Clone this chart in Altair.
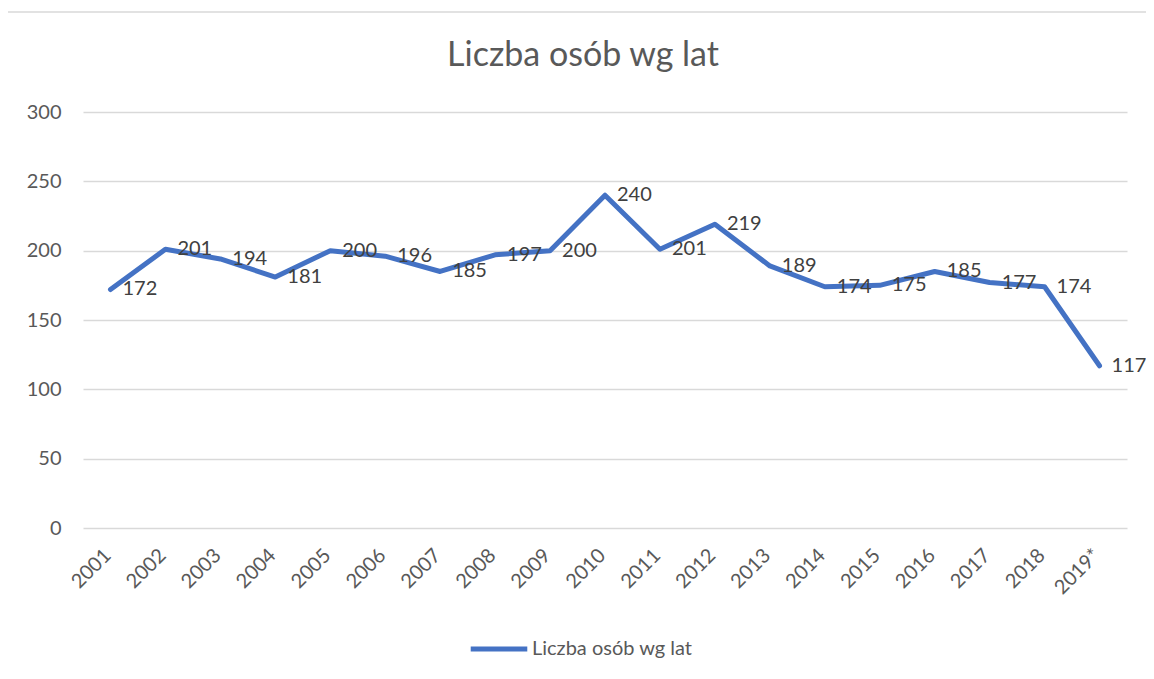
import altair as alt
import pandas as pd

years = ["2001", "2002", "2003", "2004", "2005", "2006", "2007", "2008", "2009", "2010",
         "2011", "2012", "2013", "2014", "2015", "2016", "2017", "2018", "2019*"]
values = [172, 201, 194, 181, 200, 196, 185, 197, 200, 240,
          201, 219, 189, 174, 175, 185, 177, 174, 117]
series_name = "Liczba osób wg lat"

df = pd.DataFrame({"rok": years, "liczba": values, "seria": [series_name] * len(years)})

FONT = "Lato"
x_enc = alt.X("rok:O", sort=None, scale=alt.Scale(padding=0.5),
              axis=alt.Axis(title=None, labelAngle=-45, labelAlign="right", labelBaseline="middle",
                            labelPadding=24, labelOffset=-3, labelFontSize=20, labelColor="#595959",
                            labelFont=FONT, domain=False, ticks=False, grid=False))
y_enc = alt.Y("liczba:Q", scale=alt.Scale(domain=[0, 300]),
              axis=alt.Axis(title=None, values=[0, 50, 100, 150, 200, 250, 300], labelFontSize=20,
                            labelColor="#595959", labelFont=FONT, labelPadding=22,
                            domain=False, ticks=False, gridColor="#d9d9d9", gridWidth=1.3))

frame = alt.Chart(pd.DataFrame({"a": [0]})).mark_rect(
    fill=None, stroke="#d9d9d9", strokeWidth=1.5
).encode(x=alt.value(-76), x2=alt.value(1200), y=alt.value(-100), y2=alt.value(600))

line = alt.Chart(df).mark_line(strokeWidth=5, strokeJoin="round", strokeCap="round").encode(
    x=x_enc, y=y_enc,
    color=alt.Color("seria:N", scale=alt.Scale(range=["#4472C4"]),
                    legend=alt.Legend(title=None, orient="none", legendX=385, legendY=506,
                                      symbolType="stroke", symbolSize=3200, symbolStrokeWidth=5,
                                      labelFontSize=20, labelColor="#595959", labelFont=FONT,
                                      labelOffset=2, labelLimit=0))
)

labels = alt.Chart(df).mark_text(align="left", baseline="middle", dx=12, fontSize=20,
                                 color="#404040", font=FONT).encode(
    x=alt.X("rok:O", sort=None), y="liczba:Q", text="liczba:Q")

chart = alt.layer(frame, line, labels).properties(
    width=1044, height=416,
    autosize=alt.AutoSizeParams(type="none"),
    padding={"left": 75, "top": 104, "right": 19, "bottom": 136},
    title=alt.TitleParams(series_name, fontSize=34, font=FONT, fontWeight="normal",
                          color="#595959", anchor="middle", frame="group", offset=-62, dx=-22),
).configure_view(stroke=None)

chart.save("out.html", embed_options={"renderer": "svg", "actions": False})
